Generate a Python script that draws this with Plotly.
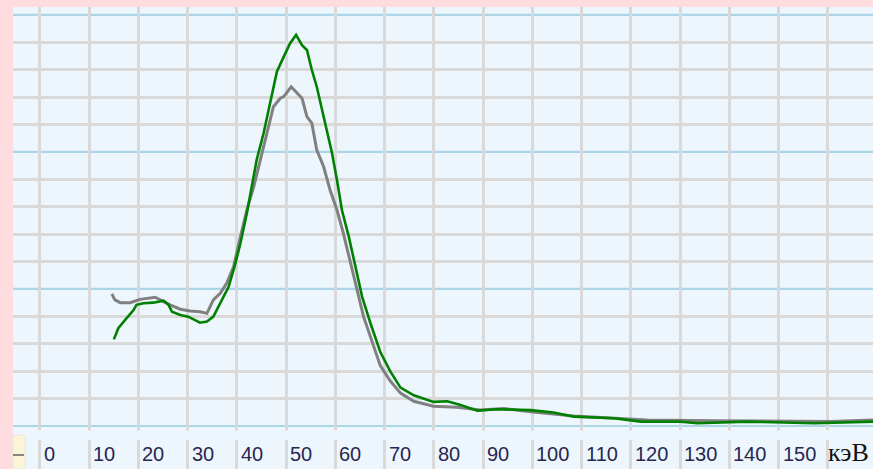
import plotly.graph_objects as go

# Energy axis (keV) and relative counts (grid units)
green_x = [15.0, 15.9, 17.3, 19.0, 19.6, 21.0, 23.0, 25.1, 26.1, 26.8, 28.5, 30.1, 32.5, 33.9, 35.2,
           36.6, 38.3, 39.6, 40.7, 42.0, 43.0, 44.0, 45.4, 46.7, 48.1, 49.5, 50.8, 52.0, 53.2, 54.2,
           55.2, 56.2, 57.3, 58.3, 59.3, 60.3, 61.3, 62.7, 64.0, 65.4, 67.1, 69.1, 71.1, 73.2, 75.9,
           77.9, 79.9, 82.7, 85.4, 88.8, 92.8, 99.6, 104.3, 108.4, 116.5, 122.0, 130.1, 133.5, 143.6,
           157.2, 169.3]
green_y = [3.16, 3.57, 3.87, 4.23, 4.42, 4.48, 4.50, 4.57, 4.42, 4.17, 4.05, 3.99, 3.77, 3.81, 3.99,
           4.48, 5.08, 5.88, 6.67, 7.76, 8.73, 9.71, 10.68, 11.72, 12.93, 13.48, 13.97, 14.27, 13.90, 13.72,
           12.99, 12.38, 11.53, 10.68, 9.95, 8.98, 7.88, 6.91, 5.81, 4.72, 3.75, 2.70, 2.00, 1.40, 1.12,
           1.00, 0.88, 0.90, 0.77, 0.56, 0.61, 0.58, 0.49, 0.34, 0.28, 0.16, 0.16, 0.10, 0.16,
           0.10, 0.16]

gray_x = [14.6, 15.2, 16.3, 18.3, 20.3, 23.4, 25.1, 26.4, 28.5, 30.5, 32.5, 33.9, 35.2, 36.6, 37.9,
          39.3, 40.7, 42.0, 43.4, 44.7, 46.1, 47.4, 48.8, 49.5, 51.0, 52.2, 53.2, 54.2, 55.2, 56.2,
          57.6, 58.9, 60.3, 61.6, 63.0, 64.4, 65.7, 67.1, 69.1, 71.1, 73.2, 75.9, 79.9, 84.7, 89.4,
          94.2, 99.6, 108.4, 116.5, 123.3, 136.9, 150.4, 160.6, 169.3]
gray_y = [4.82, 4.60, 4.50, 4.50, 4.62, 4.70, 4.54, 4.42, 4.26, 4.20, 4.17, 4.11, 4.60, 4.84, 5.21,
          5.81, 6.91, 7.88, 8.73, 9.71, 10.68, 11.65, 11.96, 12.02, 12.38, 12.14, 11.96, 11.29, 11.05, 10.07,
          9.46, 8.61, 7.88, 7.03, 5.94, 4.96, 3.99, 3.26, 2.20, 1.65, 1.20, 0.90, 0.72, 0.68, 0.58,
          0.64, 0.52, 0.36, 0.28, 0.22, 0.19, 0.16, 0.16, 0.22]

tick_vals = [0, 10, 20, 30, 40, 50, 60, 70, 80, 90, 100, 110, 120, 130, 140, 150]
tick_labels = ["0", "10", "20", "30", "40", "50", "60", "70", "80", "90", "100", "110", "120", "130", "140", "150"]
unit_pos = 160
unit_label = "кэВ"
major_y = [0, 5, 10, 15]
minor_y = [v for v in range(0, 16) if v not in major_y]

PLOT_BG = "#eef6fd"
PINK = "#fedcdf"
GRID = "#d9d9d9"
BLUE = "#aad6e8"

fig = go.Figure()
fig.add_trace(go.Scatter(x=gray_x, y=gray_y, mode="lines",
                         line=dict(color="#808080", width=3), hoverinfo="skip"))
fig.add_trace(go.Scatter(x=green_x, y=green_y, mode="lines",
                         line=dict(color="#008000", width=2.6), hoverinfo="skip"))

shapes = []
# major (blue) horizontal lines
for v in major_y:
    shapes.append(dict(type="line", xref="paper", yref="y", x0=0, x1=1, y0=v, y1=v,
                       line=dict(color=BLUE, width=2.2), layer="below"))
# gap between plot and label strip (hides vertical gridlines there)
shapes.append(dict(type="rect", xref="paper", yref="y", x0=0, x1=1, y0=-0.16, y1=-0.51,
                   fillcolor=PLOT_BG, line=dict(width=0), layer="above"))
# bottom-left widget
shapes.append(dict(type="rect", xref="paper", yref="paper", x0=0, x1=12 / 860, y0=0, y1=34 / 462,
                   fillcolor="#fbf5d6", line=dict(color="#e6e6e6", width=1), layer="above"))
shapes.append(dict(type="line", xref="paper", yref="paper", x0=0, x1=11 / 860, y0=14 / 462, y1=14 / 462,
                   line=dict(color="#606060", width=1.5), layer="above"))

annotations = []
for v, t in zip(tick_vals, tick_labels):
    annotations.append(dict(x=v, y=-1.02, xref="x", yref="y", text=t, showarrow=False,
                            xanchor="left", yanchor="middle", xshift=2,
                            font=dict(family="Liberation Sans, Arial", size=20, color="#28264f")))
annotations.append(dict(x=unit_pos, y=-0.98, xref="x", yref="y", text=unit_label, showarrow=False,
                        xanchor="left", yanchor="middle", xshift=-2,
                        font=dict(family="Liberation Serif, Times New Roman", size=26, color="#111111")))

fig.update_layout(
    width=873, height=469, autosize=False,
    margin=dict(l=13, r=0, t=7, b=0, pad=0),
    paper_bgcolor=PINK, plot_bgcolor=PLOT_BG,
    showlegend=False,
    shapes=shapes, annotations=annotations,
    xaxis=dict(range=[-5.48, 169.14], tickmode="array", tickvals=tick_vals + [unit_pos],
               showticklabels=False, showgrid=True, gridcolor=GRID, gridwidth=2.5,
               zeroline=False, showline=False, ticks="", fixedrange=True),
    yaxis=dict(range=[-1.57, 15.29], tickmode="array", tickvals=minor_y,
               showticklabels=False, showgrid=True, gridcolor=GRID, gridwidth=2.5,
               zeroline=False, showline=False, ticks="", fixedrange=True),
)

fig.write_html("out.html", config={"displayModeBar": False},
               post_script="document.body.style.margin='0';document.body.style.overflow='hidden';")
